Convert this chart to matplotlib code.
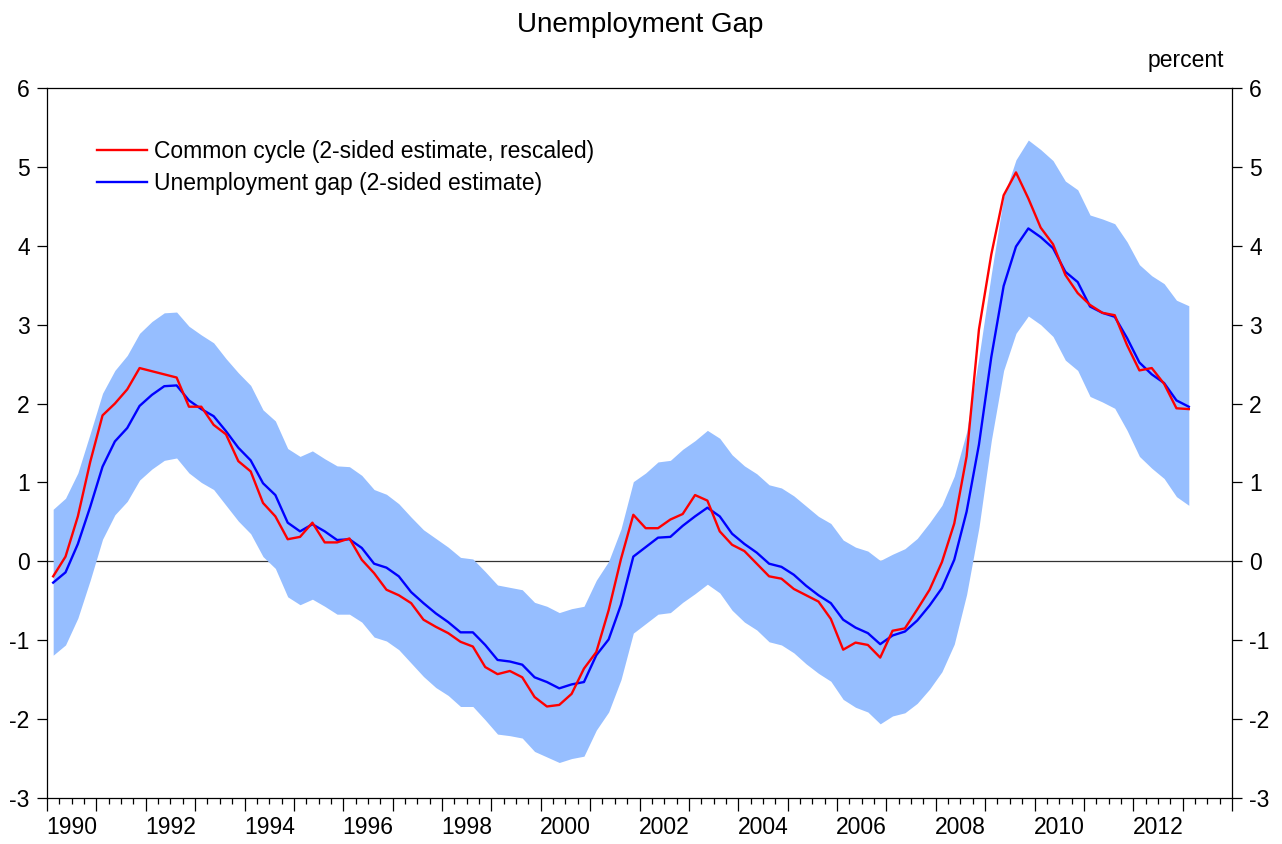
import numpy as np
import pandas as pd
import matplotlib
matplotlib.use('Agg')
import matplotlib.pyplot as plt

plt.rcParams['font.family'] = ['Liberation Sans', 'DejaVu Sans']
plt.rcParams['axes.unicode_minus'] = False

# quarterly sample 1990Q1 - 2013Q1
trimestres = pd.period_range('1990Q1', '2013Q1', freq='Q')

# common cycle (2-sided estimate, rescaled)
ciclo = [-0.19, 0.06, 0.57, 1.26, 1.85, 2.00, 2.18, 2.45, 2.41, 2.37,
         2.33, 1.96, 1.96, 1.73, 1.61, 1.27, 1.14, 0.74, 0.57, 0.28,
         0.31, 0.49, 0.24, 0.24, 0.29, 0.02, -0.15, -0.36, -0.43, -0.53,
         -0.74, -0.83, -0.91, -1.02, -1.08, -1.34, -1.43, -1.39, -1.47, -1.72,
         -1.84, -1.82, -1.68, -1.36, -1.15, -0.62, 0.03, 0.59, 0.42, 0.42,
         0.53, 0.60, 0.84, 0.77, 0.38, 0.21, 0.13, -0.03, -0.19, -0.22,
         -0.35, -0.43, -0.51, -0.73, -1.12, -1.03, -1.06, -1.22, -0.88, -0.85,
         -0.61, -0.36, -0.01, 0.48, 1.33, 2.94, 3.89, 4.64, 4.93, 4.60,
         4.23, 4.02, 3.63, 3.40, 3.25, 3.15, 3.12, 2.74, 2.42, 2.45,
         2.25, 1.94, 1.93]

# unemployment gap (2-sided estimate)
gap = [-0.27, -0.14, 0.22, 0.69, 1.20, 1.52, 1.69, 1.97, 2.11, 2.22,
       2.23, 2.04, 1.93, 1.84, 1.65, 1.44, 1.28, 0.99, 0.84, 0.49,
       0.38, 0.47, 0.38, 0.27, 0.28, 0.17, -0.03, -0.08, -0.19, -0.39,
       -0.53, -0.66, -0.77, -0.90, -0.90, -1.06, -1.25, -1.27, -1.31, -1.47,
       -1.53, -1.61, -1.56, -1.53, -1.19, -0.99, -0.55, 0.06, 0.18, 0.30,
       0.31, 0.45, 0.57, 0.68, 0.57, 0.35, 0.22, 0.11, -0.03, -0.07,
       -0.17, -0.31, -0.43, -0.53, -0.74, -0.84, -0.91, -1.05, -0.94, -0.89,
       -0.75, -0.56, -0.34, 0.02, 0.63, 1.48, 2.59, 3.49, 3.99, 4.22,
       4.11, 3.97, 3.67, 3.54, 3.23, 3.15, 3.10, 2.83, 2.52, 2.37,
       2.26, 2.04, 1.96]

# banda de confianca
banda_sup = [0.66, 0.80, 1.12, 1.62, 2.13, 2.42, 2.61, 2.89, 3.04, 3.15,
             3.16, 2.98, 2.87, 2.77, 2.57, 2.39, 2.23, 1.92, 1.78, 1.43,
             1.33, 1.40, 1.30, 1.21, 1.20, 1.09, 0.91, 0.85, 0.73, 0.56,
             0.40, 0.29, 0.18, 0.05, 0.03, -0.13, -0.30, -0.33, -0.36, -0.52,
             -0.57, -0.65, -0.60, -0.57, -0.24, 0.00, 0.41, 1.01, 1.12, 1.26,
             1.28, 1.42, 1.53, 1.66, 1.56, 1.35, 1.21, 1.11, 0.97, 0.93,
             0.83, 0.70, 0.57, 0.48, 0.27, 0.18, 0.13, 0.01, 0.09, 0.16,
             0.29, 0.49, 0.71, 1.08, 1.64, 2.59, 3.64, 4.62, 5.09, 5.34,
             5.22, 5.08, 4.82, 4.71, 4.39, 4.34, 4.28, 4.05, 3.76, 3.62,
             3.52, 3.31, 3.24]
banda_inf = [-1.19, -1.06, -0.72, -0.24, 0.28, 0.59, 0.76, 1.03, 1.17, 1.28,
             1.31, 1.12, 1.00, 0.91, 0.71, 0.51, 0.35, 0.06, -0.09, -0.45,
             -0.55, -0.48, -0.57, -0.67, -0.67, -0.77, -0.96, -1.01, -1.12, -1.29,
             -1.46, -1.60, -1.70, -1.84, -1.84, -2.01, -2.19, -2.21, -2.24, -2.41,
             -2.48, -2.55, -2.50, -2.47, -2.14, -1.91, -1.50, -0.91, -0.79, -0.67,
             -0.65, -0.52, -0.41, -0.29, -0.40, -0.62, -0.77, -0.87, -1.02, -1.06,
             -1.16, -1.30, -1.42, -1.52, -1.75, -1.85, -1.91, -2.06, -1.96, -1.92,
             -1.80, -1.62, -1.40, -1.05, -0.42, 0.43, 1.53, 2.42, 2.89, 3.11,
             3.00, 2.85, 2.55, 2.42, 2.09, 2.02, 1.94, 1.66, 1.33, 1.18,
             1.05, 0.82, 0.71]

# posicao no meio de cada trimestre
x = trimestres.year + (trimestres.quarter - 0.5) / 4

fig = plt.figure(figsize=(12.82, 8.44), dpi=100)
ax = fig.add_axes([47/1282, 1 - 798/844, (1232-47)/1282, (798-88)/844])

ax.axhline(0, color='#333333', lw=0.9, zorder=1)
ax.fill_between(x, banda_inf, banda_sup, color='#96BEFF', lw=0, zorder=2)
ax.plot(x, ciclo, color='#FF0000', lw=1.7, zorder=4,
        label='Common cycle (2-sided estimate, rescaled)')
ax.plot(x, gap, color='#0000FF', lw=1.7, zorder=3,
        label='Unemployment gap (2-sided estimate)')

ax.set_xlim(1990, 2014)
ax.set_ylim(-3, 6)
ax.set_yticks(range(-3, 7))
ax.set_xticks(range(1990, 2015))
ax.set_xticks(np.arange(1990, 2014.01, 0.25), minor=True)
ax.set_xticklabels([])
for s in ax.spines.values():
    s.set_linewidth(0.9)

ax.tick_params(axis='y', direction='out', length=7.5, width=0.9, labelsize=16.5,
               left=True, right=True, labelleft=True, labelright=True, pad=5)
ax.tick_params(axis='x', which='major', direction='out', length=9, width=0.9)
ax.tick_params(axis='x', which='minor', direction='out', length=4.5, width=0.9)

for ano in range(1990, 2014, 2):
    ax.text(ano + 0.5, -0.025, str(ano), transform=ax.get_xaxis_transform(),
            ha='center', va='top', fontsize=16.5)

fig.text(640/1282, 1 - 25/844, 'Unemployment Gap', ha='center', va='center', fontsize=20)
fig.text(1186/1282, 1 - 60/844, 'percent', ha='center', va='center', fontsize=16.5)

ax.legend(loc='upper left', bbox_to_anchor=(97/1282, 1 - 140/844),
          bbox_transform=fig.transFigure, frameon=False, fontsize=16.5,
          handlelength=2.2, handletextpad=0.3, labelspacing=0.4,
          borderpad=0, borderaxespad=0)

plt.savefig('out.png', dpi=100)
